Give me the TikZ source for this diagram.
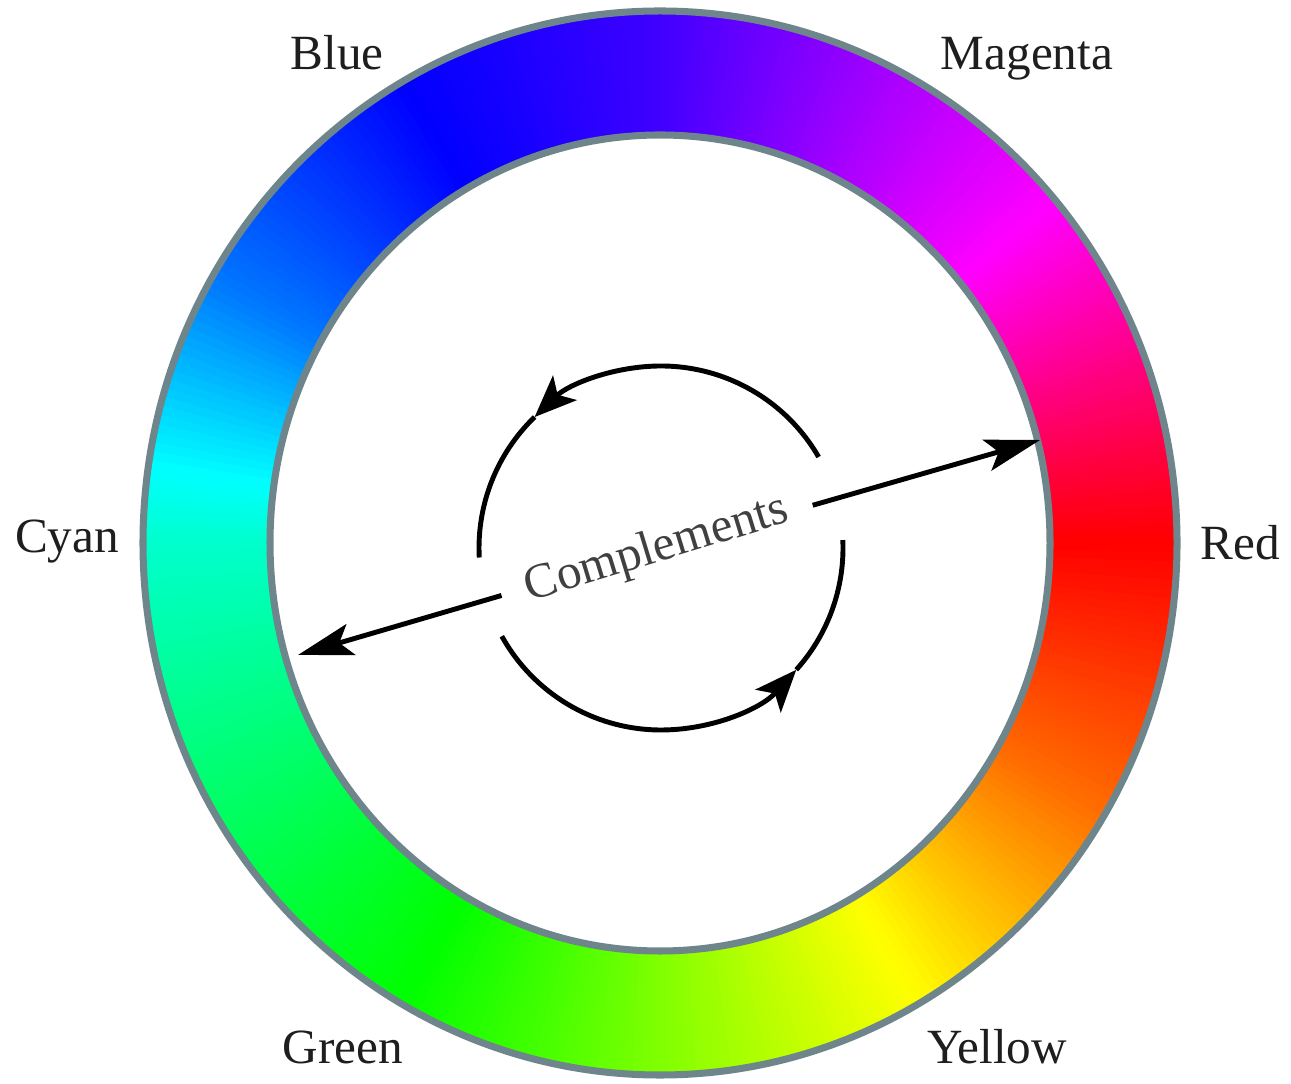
\documentclass[tikz,border=0pt]{standalone}
\usepackage{fontspec}
\setmainfont{Liberation Serif}
\usetikzlibrary{arrows.meta, positioning, calc}
\definecolor{rimgray}{HTML}{6E868B}
\definecolor{labelink}{HTML}{1E1E1E}

\begin{document}
\begin{tikzpicture}[
    hue label/.style={anchor=base, font=\fontsize{14}{16}\selectfont, text=labelink},
    rim/.style={draw=rimgray, line width=2pt},
    curl/.style={line width=1.4pt, draw=black},
    arrow/.style={-{Stealth[length=5.5mm, width=3.2mm, inset=1.2mm]}, line width=1.4pt, draw=black},
    curl arrow/.style={curl, -{Stealth[length=4.2mm, width=3.4mm, inset=1mm]}},
]
\fill[white] (0,0) rectangle (12.91,10.83);
\useasboundingbox (0,0) rectangle (12.91,10.83);

\coordinate (centre) at (6.60,5.40);
\coordinate (loop) at (6.61,5.35);

% colour ring: angle range / hue range, one degree at a time
\begin{scope}[shift={(centre)}]
\foreach \from/\to/\hfrom/\hto in {0/40/360/300, 40/90/300/255, 90/120/255/240,
        120/150/240/212, 150/180/212/168, 180/240/168/120, 240/300/120/60,
        300/330/60/25, 330/360/25/0} {
    \pgfmathtruncatemacro\last{\to-1}
    \foreach \d in {\from,...,\last} {
        \pgfmathsetmacro\e{\d+1.4}
        \pgfmathsetmacro\hue{mod(\hfrom+(\hto-\hfrom)*(\d+0.5-\from)/(\to-\from)+360,360)}
        \definecolor{seg}{Hsb}{\hue,1,1}
        \fill[seg] (\d:5.17 and 5.32) arc[start angle=\d, end angle=\e, x radius=5.17, y radius=5.32]
            -- (\e:3.90 and 4.08) arc[start angle=\e, end angle=\d, x radius=3.90, y radius=4.08] -- cycle;
    }
}
\draw[rim] (0,0) ellipse[x radius=5.17, y radius=5.32];
\draw[rim] (0,0) ellipse[x radius=3.90, y radius=4.08];
\end{scope}

\node[hue label] (blue) at (3.37,10.13) {Blue};
\node[hue label] (magenta) at (10.27,10.13) {Magenta};
\node[hue label] (cyan) at (0.67,5.30) {Cyan};
\node[hue label] (red) at (12.40,5.23) {Red};
\node[hue label] (green) at (3.43,0.20) {Green};
\node[hue label] (yellow) at (9.97,0.20) {Yellow};

\node[rotate=17, font=\fontsize{14}{16}\selectfont, text=black!75, inner xsep=7pt, inner ysep=2pt] (comp) at (6.57,5.33) {Complements};

\coordinate (redtip) at (10.40,6.43);
\coordinate (cyantip) at (2.98,4.28);
\draw[arrow] (comp) -- (redtip);
\draw[arrow] (comp) -- (cyantip);

% turning arrows round the label
\draw[curl arrow] ($(loop)+(30:1.82)$) arc[start angle=30, end angle=134, radius=1.82];
\draw[curl] ($(loop)+(134:1.82)$) arc[start angle=134, end angle=183, radius=1.82];
\draw[curl arrow] ($(loop)+(209:1.82)$) arc[start angle=209, end angle=318, radius=1.82];
\draw[curl] ($(loop)+(318:1.82)$) arc[start angle=318, end angle=362.5, radius=1.82];

\end{tikzpicture}
\end{document}
